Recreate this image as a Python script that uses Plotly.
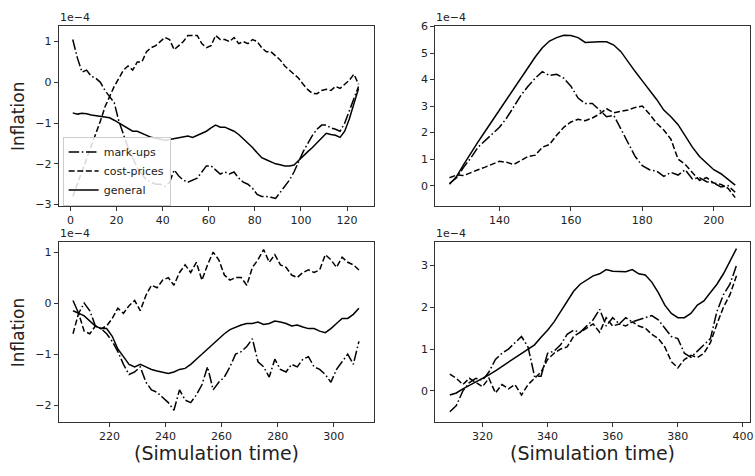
import plotly.graph_objects as go

# ---------------- data (values in units of 1e-4) ----------------
SCALE_LABEL = "1e\u22124"
SERIES_NAMES = ["mark-ups", "cost-prices", "general"]

# top-left panel
t_tl = list(range(1, 126, 2))
markups_tl = [1.05, 0.6, 0.25, 0.3, 0.15, 0.1, 0.0, -0.2, -0.35, -0.5, -0.95, -1.3, -1.6, -1.85,
              -2.1, -2.25, -2.4, -2.45, -2.5, -2.5, -2.55, -2.45, -2.15, -2.3, -2.4, -2.45, -2.4,
              -2.35, -2.2, -2.05, -2.05, -2.15, -2.25, -2.2, -2.25, -2.2, -2.35, -2.45, -2.5, -2.6,
              -2.75, -2.8, -2.8, -2.82, -2.85, -2.7, -2.55, -2.4, -2.2, -1.95, -1.7, -1.5, -1.3,
              -1.15, -1.05, -1.05, -1.12, -1.15, -1.2, -1.0, -0.7, -0.4, -0.1]
costs_tl = [-2.8, -2.5, -2.2, -1.9, -1.6, -1.3, -0.95, -0.6, -0.35, -0.1, 0.1, 0.3, 0.4, 0.3,
            0.5, 0.5, 0.75, 0.85, 0.9, 1.0, 1.1, 1.05, 0.8, 0.9, 1.0, 1.15, 1.15, 1.15, 0.95,
            0.85, 0.9, 1.15, 1.05, 1.05, 1.0, 1.1, 0.95, 1.0, 0.95, 1.05, 1.0, 0.85, 0.75, 0.75,
            0.65, 0.55, 0.4, 0.3, 0.2, 0.1, -0.05, -0.18, -0.27, -0.28, -0.2, -0.17, -0.2, -0.1,
            -0.15, -0.05, 0.05, 0.2, -0.05]
general_tl = [-0.75, -0.78, -0.76, -0.77, -0.8, -0.82, -0.83, -0.85, -0.87, -0.93, -1.0, -1.07,
              -1.15, -1.2, -1.2, -1.25, -1.3, -1.35, -1.37, -1.4, -1.42, -1.4, -1.38, -1.36,
              -1.35, -1.32, -1.35, -1.3, -1.25, -1.2, -1.12, -1.05, -1.1, -1.1, -1.15, -1.2,
              -1.28, -1.38, -1.5, -1.6, -1.73, -1.85, -1.9, -1.95, -2.0, -2.02, -2.05, -2.05,
              -2.03, -1.92, -1.8, -1.7, -1.6, -1.48, -1.35, -1.25, -1.28, -1.3, -1.35, -1.2,
              -0.9, -0.5, -0.15]

# top-right panel
t_tr = list(range(126, 207, 2))
markups_tr = [0.08, 0.3, 0.7, 1.05, 1.45, 1.7, 1.95, 2.2, 2.55, 3.0, 3.4, 3.75, 4.05, 4.3, 4.15,
              4.2, 4.05, 3.75, 3.3, 3.1, 3.1, 2.85, 2.6, 2.65, 2.15, 1.6, 1.1, 0.75, 0.6, 0.55,
              0.35, 0.5, 0.4, 0.6, 0.25, 0.3, 0.15, 0.1, -0.05, 0.0, -0.25]
costs_tr = [0.3, 0.4, 0.38, 0.5, 0.6, 0.7, 0.8, 0.92, 0.88, 0.8, 0.95, 1.1, 1.15, 1.45, 1.55,
            1.9, 2.2, 2.4, 2.5, 2.45, 2.55, 2.7, 2.9, 2.75, 2.8, 2.85, 2.95, 3.0, 2.7, 2.35,
            2.1, 1.75, 1.0, 0.8, 0.5, 0.2, 0.3, 0.1, 0.05, -0.1, -0.45]
general_tr = [0.05, 0.35, 0.8, 1.25, 1.65, 2.05, 2.45, 2.9, 3.3, 3.7, 4.1, 4.5, 4.85, 5.2, 5.45,
              5.58, 5.67, 5.66, 5.58, 5.4, 5.42, 5.42, 5.42, 5.3, 5.05, 4.65, 4.3, 3.95, 3.6,
              3.25, 2.85, 2.6, 2.3, 1.85, 1.45, 1.1, 0.85, 0.6, 0.45, 0.25, 0.02]

# bottom-left panel
t_bl = list(range(207, 310, 2))
markups_bl = [-0.15, -0.2, 0.0, -0.15, -0.45, -0.5, -0.6, -0.75, -0.95, -1.2, -1.4, -1.35, -1.25,
              -1.55, -1.7, -1.75, -1.85, -1.95, -2.1, -1.7, -1.9, -1.95, -1.8, -1.6, -1.25, -1.7,
              -1.55, -1.45, -1.25, -1.0, -0.95, -0.85, -0.7, -1.15, -1.25, -1.45, -1.1, -1.3,
              -1.35, -1.2, -1.25, -1.1, -1.05, -1.25, -1.3, -1.4, -1.55, -1.3, -1.15, -1.0, -1.2,
              -0.75]
costs_bl = [-0.6, -0.2, -0.55, -0.6, -0.45, -0.5, -0.45, -0.3, -0.1, -0.2, -0.05, 0.05, -0.15,
            0.15, 0.35, 0.3, 0.45, 0.5, 0.35, 0.6, 0.75, 0.6, 0.8, 0.45, 0.75, 1.0, 0.85, 0.55,
            0.45, 0.5, 0.5, 0.35, 0.7, 0.85, 1.05, 0.8, 0.95, 0.75, 0.7, 0.55, 0.5, 0.6, 0.65,
            0.6, 0.65, 0.95, 0.85, 0.7, 0.9, 0.8, 0.75, 0.65]
general_bl = [0.05, -0.2, -0.25, -0.35, -0.45, -0.5, -0.5, -0.65, -0.9, -1.05, -1.2, -1.25, -1.2,
              -1.25, -1.3, -1.33, -1.35, -1.38, -1.35, -1.3, -1.28, -1.2, -1.1, -1.0, -0.9, -0.8,
              -0.7, -0.6, -0.52, -0.47, -0.43, -0.4, -0.4, -0.37, -0.42, -0.4, -0.35, -0.37,
              -0.4, -0.45, -0.43, -0.47, -0.5, -0.5, -0.55, -0.58, -0.5, -0.4, -0.3, -0.3,
              -0.22, -0.1]

# bottom-right panel
t_br = list(range(310, 399, 2))
markups_br = [-0.5, -0.35, 0.0, 0.2, 0.3, 0.25, 0.45, 0.75, 0.9, 1.0, 1.15, 1.3, 1.05, 0.35, 0.35,
              0.9, 0.95, 1.1, 1.35, 1.45, 1.4, 1.55, 1.7, 1.95, 1.55, 1.75, 1.6, 1.75, 1.65, 1.7,
              1.75, 1.8, 1.7, 1.5, 1.3, 1.25, 0.9, 0.8, 0.95, 1.1, 1.25, 1.9, 2.3, 2.55, 3.0]
costs_br = [0.4, 0.3, 0.15, 0.3, 0.2, 0.1, 0.3, -0.05, 0.15, 0.05, 0.15, -0.1, 0.15, 0.3, 0.45,
            0.75, 0.9, 1.0, 1.05, 1.3, 1.4, 1.5, 1.6, 1.4, 1.75, 1.55, 1.6, 1.55, 1.65, 1.55,
            1.5, 1.35, 1.25, 1.05, 0.7, 0.55, 0.75, 0.85, 0.8, 0.9, 1.15, 1.6, 2.0, 2.3, 2.75]
general_br = [-0.1, -0.05, 0.05, 0.13, 0.2, 0.28, 0.38, 0.48, 0.58, 0.68, 0.78, 0.88, 0.98, 1.1,
              1.28, 1.45, 1.65, 1.9, 2.15, 2.38, 2.55, 2.65, 2.75, 2.8, 2.9, 2.86, 2.86, 2.85,
              2.9, 2.8, 2.77, 2.6, 2.35, 2.05, 1.85, 1.75, 1.75, 1.85, 2.05, 2.15, 2.35, 2.55,
              2.8, 3.1, 3.4]

# tick labels
xticks_tl = [0, 20, 40, 60, 80, 100, 120]
yticks_tl = [-3, -2, -1, 0, 1]
xticks_tr = [140, 160, 180, 200]
yticks_tr = [0, 1, 2, 3, 4, 5, 6]
xticks_bl = [220, 240, 260, 280, 300]
yticks_bl = [-2, -1, 0, 1]
xticks_br = [320, 340, 360, 380, 400]
yticks_br = [0, 1, 2, 3]

Y_LABEL = "Inflation"
X_LABEL = "(Simulation time)"

# ---------------- layout ----------------
W, H = 755, 476
FONT = "DejaVu Sans"
DASHES = ["10.5px,2.6px,1.6px,2.6px", "6px,2.6px", "solid"]


def fx(p):
    return p / W


def fy(p):
    return 1 - p / H


panels = [
    dict(t=t_tl, ys=[markups_tl, costs_tl, general_tl], xd=(59, 375.5), yd=(21, 205),
         xr=[-5.1, 131.5], yr=[-3.03, 1.37], xt=xticks_tl, yt=yticks_tl),
    dict(t=t_tr, ys=[markups_tr, costs_tr, general_tr], xd=(437.5, 753.5), yd=(21, 205),
         xr=[122, 210], yr=[-0.76, 6.0], xt=xticks_tr, yt=yticks_tr),
    dict(t=t_bl, ys=[markups_bl, costs_bl, general_bl], xd=(59, 375.5), yd=(242.5, 427),
         xr=[201.9, 314.2], yr=[-2.335, 1.19], xt=xticks_bl, yt=yticks_bl),
    dict(t=t_br, ys=[markups_br, costs_br, general_br], xd=(437.5, 753.5), yd=(242.5, 427),
         xr=[305.5, 402], yr=[-0.75, 3.55], xt=xticks_br, yt=yticks_br),
]

fig = go.Figure()
layout = dict(
    width=W, height=H, margin=dict(l=0, r=0, t=0, b=0),
    paper_bgcolor="white", plot_bgcolor="white",
    font=dict(family=FONT, size=11, color="#222"),
    showlegend=True,
    legend=dict(x=fx(63), y=fy(134), xanchor="left", yanchor="top",
                bgcolor="rgba(255,255,255,0.85)", bordercolor="#cccccc", borderwidth=1,
                font=dict(family=FONT, size=11, color="#222"), tracegroupgap=0,
                itemwidth=30),
)
annotations = []

for i, p in enumerate(panels):
    k = "" if i == 0 else str(i + 1)
    xa, ya = "x" + k, "y" + k
    for j, (name, vals) in enumerate(zip(SERIES_NAMES, p["ys"])):
        fig.add_trace(go.Scatter(
            x=p["t"], y=vals, mode="lines", name=name, xaxis=xa, yaxis=ya,
            line=dict(color="black", width=1.5, dash=DASHES[j]),
            showlegend=(i == 0), hoverinfo="skip"))
    axcommon = dict(showline=True, mirror=True, linecolor="#333", linewidth=1,
                    ticks="outside", ticklen=4, tickwidth=1, tickcolor="#333",
                    showgrid=False, zeroline=False, tickmode="array",
                    tickfont=dict(family=FONT, size=11, color="#222"))
    layout["xaxis" + k] = dict(axcommon, domain=[fx(p["xd"][0]), fx(p["xd"][1])],
                               range=p["xr"], tickvals=p["xt"], anchor=ya,
                               ticklabeloverflow="allow")
    layout["yaxis" + k] = dict(axcommon, domain=[fy(p["yd"][1]), fy(p["yd"][0])],
                               range=p["yr"], tickvals=p["yt"], anchor=xa)
    annotations.append(dict(text=SCALE_LABEL, x=fx(p["xd"][0]), y=fy(p["yd"][0]),
                            xref="paper", yref="paper", xanchor="left", yanchor="bottom",
                            showarrow=False, yshift=1, borderpad=0,
                            font=dict(family=FONT, size=11, color="#222")))

# y labels (left column)
for yd in [(21, 205), (242.5, 427)]:
    annotations.append(dict(text=Y_LABEL, x=fx(18), y=fy((yd[0] + yd[1]) / 2),
                            xref="paper", yref="paper", xanchor="center", yanchor="middle",
                            textangle=-90, showarrow=False,
                            font=dict(family=FONT, size=17, color="#222")))
# x labels (bottom row)
for xd in [(59, 375.5), (437.5, 753.5)]:
    annotations.append(dict(text=X_LABEL, x=fx((xd[0] + xd[1]) / 2), y=fy(459),
                            xref="paper", yref="paper", xanchor="center", yanchor="middle",
                            showarrow=False,
                            font=dict(family=FONT, size=19, color="#222")))

layout["annotations"] = annotations
fig.update_layout(**layout)
fig.write_html("out.html", config={"displayModeBar": False, "staticPlot": True},
               post_script="document.body.style.margin='0';document.body.style.overflow='hidden';")
